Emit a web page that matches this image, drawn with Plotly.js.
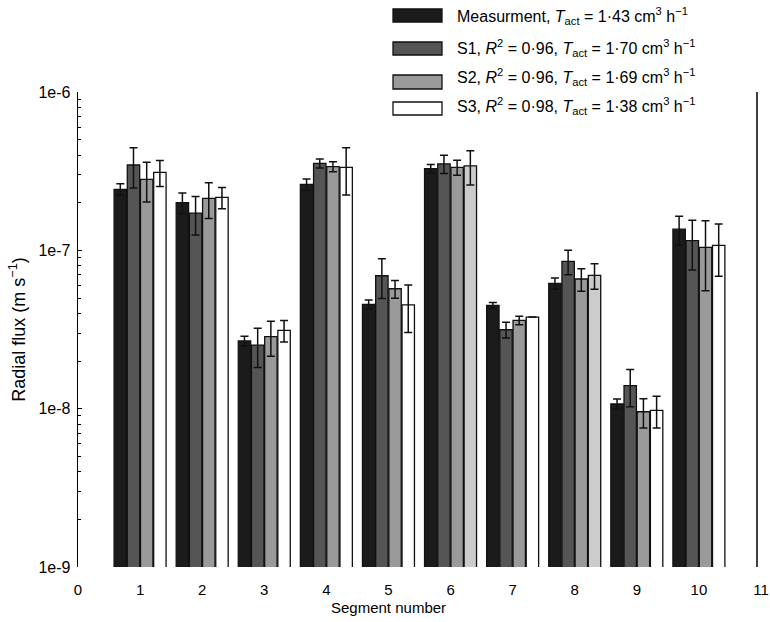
<!DOCTYPE html>
<html>
<head>
<meta charset="utf-8">
<script src="https://cdn.plot.ly/plotly-3.0.1.min.js"></script>
<style>
  html, body { margin: 0; padding: 0; background: #fff; }
  #chart { width: 770px; height: 622px; }
</style>
</head>
<body>
<div id="chart"></div>
<script>
// ---- Data ----
const segments = [1, 2, 3, 4, 5, 6, 7, 8, 9, 10];

const seriesNames = [
  'Measurment, <i>T</i><sub>act</sub> = 1·43 cm<sup>3</sup> h<sup>−1</sup>',
  'S1, <i>R</i><sup>2</sup> = 0·96, <i>T</i><sub>act</sub> = 1·70 cm<sup>3</sup> h<sup>−1</sup>',
  'S2, <i>R</i><sup>2</sup> = 0·96, <i>T</i><sub>act</sub> = 1·69 cm<sup>3</sup> h<sup>−1</sup>',
  'S3, <i>R</i><sup>2</sup> = 0·98, <i>T</i><sub>act</sub> = 1·38 cm<sup>3</sup> h<sup>−1</sup>'
];

const measurement    = [2.43e-7, 2.00e-7, 2.68e-8, 2.61e-7, 4.56e-8, 3.28e-7, 4.49e-8, 6.18e-8, 1.07e-8, 1.36e-7];
const measurementErr = [0.20e-7, 0.30e-7, 0.19e-8, 0.21e-7, 0.30e-8, 0.20e-7, 0.20e-8, 0.50e-8, 0.08e-8, 0.28e-7];

const s1    = [3.46e-7, 1.72e-7, 2.52e-8, 3.54e-7, 6.91e-8, 3.52e-7, 3.15e-8, 8.52e-8, 1.40e-8, 1.15e-7];
const s1Err = [0.98e-7, 0.47e-7, 0.70e-8, 0.23e-7, 1.95e-8, 0.46e-7, 0.36e-8, 1.50e-8, 0.37e-8, 0.40e-7];

const s2    = [2.81e-7, 2.13e-7, 2.85e-8, 3.38e-7, 5.72e-8, 3.34e-7, 3.61e-8, 6.59e-8, 9.56e-9, 1.045e-7];
const s2Err = [0.79e-7, 0.54e-7, 0.71e-8, 0.24e-7, 0.74e-8, 0.36e-7, 0.22e-8, 1.07e-8, 0.20e-8, 0.49e-7];

const s3    = [3.11e-7, 2.16e-7, 3.12e-8, 3.34e-7, 4.53e-8, 3.42e-7, 3.79e-8, 6.95e-8, 9.76e-9, 1.075e-7];
const s3Err = [0.58e-7, 0.33e-7, 0.48e-8, 1.10e-7, 1.50e-8, 0.83e-7, 0, 1.28e-8, 0.22e-8, 0.39e-7];

const seriesColors = ['#1b1b1b', '#555555', '#9a9a9a', '#ffffff'];
const s3Colors = ['#ffffff', '#ffffff', '#ffffff', '#ffffff', '#ffffff', '#cccccc', '#ffffff', '#cccccc', '#ffffff', '#ffffff'];

const xTickVals = [0, 1, 2, 3, 4, 5, 6, 7, 8, 9, 10, 11];
const yTickVals = [1e-9, 1e-8, 1e-7, 1e-6];
const yTickText = ['1e-9', '1e-8', '1e-7', '1e-6'];
const xTitle = 'Segment number';
const yTitle = 'Radial flux (m s<sup>−1</sup>)';

// ---- Layout geometry ----
const W = 770, H = 622;
const M = { l: 78, r: 9, t: 92, b: 55 };
const plotH = H - M.t - M.b;
const plotW = W - M.l - M.r;
const pxX = x => (x - M.l) / plotW;
const pxY = y => (H - M.b - y) / plotH;

const FONT = 'Liberation Sans, Arial, Helvetica, sans-serif';

const values = [measurement, s1, s2, s3];
const errors = [measurementErr, s1Err, s2Err, s3Err];
const fills = [seriesColors[0], seriesColors[1], seriesColors[2], s3Colors];

const traces = values.map((v, i) => ({
  type: 'bar',
  x: segments,
  y: v,
  name: seriesNames[i],
  marker: { color: fills[i], line: { color: '#111', width: 1.3 } },
  error_y: { type: 'data', array: errors[i], visible: true, color: '#111', thickness: 1.5, width: 4 },
  showlegend: false,
  hoverinfo: 'x+y'
}));

// minor ticks on the log axis (2..9 per decade)
const minorVals = [];
for (let d = -9; d < -6; d++) {
  for (let m = 2; m <= 9; m++) minorVals.push(m * Math.pow(10, d));
}

// hand-made legend with wide swatches
const legendRows = [
  { swTop: 9,   swBot: 22,  textY: 16 },
  { swTop: 42,  swBot: 55,  textY: 48 },
  { swTop: 75,  swBot: 89,  textY: 77 },
  { swTop: 102, swBot: 115, textY: 106 }
];
const shapes = [];
const annotations = [];
legendRows.forEach((r, i) => {
  shapes.push({
    type: 'rect', xref: 'paper', yref: 'paper',
    x0: pxX(393), x1: pxX(442), y0: pxY(r.swBot), y1: pxY(r.swTop),
    fillcolor: seriesColors[i], line: { color: '#111', width: 1.3 }
  });
  annotations.push({
    xref: 'paper', yref: 'paper', x: pxX(455), y: pxY(r.textY),
    xanchor: 'left', yanchor: 'middle', showarrow: false,
    text: seriesNames[i], font: { family: FONT, size: 16, color: '#000' }
  });
});
// x-axis title (offset to the left as in the reference)
annotations.push({
  xref: 'paper', yref: 'paper', x: pxX(388), y: pxY(607),
  xanchor: 'center', yanchor: 'middle', showarrow: false,
  text: xTitle, font: { family: FONT, size: 15, color: '#000' }
});
// right-hand vertical frame line
shapes.push({
  type: 'line', xref: 'paper', yref: 'paper',
  x0: pxX(757), x1: pxX(757), y0: 0, y1: 1,
  line: { color: '#000', width: 1.5 }
});

const layout = {
  width: W, height: H,
  margin: M,
  paper_bgcolor: '#fff', plot_bgcolor: '#fff',
  font: { family: FONT, size: 15, color: '#000' },
  barmode: 'group',
  bargap: 0.15,
  bargroupgap: 0.06,
  xaxis: {
    range: [0, 11],
    tickmode: 'array', tickvals: xTickVals,
    ticks: '', showline: false, showgrid: false, zeroline: false,
    tickfont: { family: FONT, size: 15 },
    ticklabelstandoff: 12,
    ticklabeloverflow: 'allow',
    automargin: false
  },
  yaxis: {
    type: 'log',
    range: [-9, -6],
    tickmode: 'array', tickvals: yTickVals, ticktext: yTickText,
    ticks: 'inside', ticklen: 4, tickwidth: 1.2, tickcolor: '#000',
    minor: { tickvals: minorVals, ticks: 'inside', ticklen: 3, tickwidth: 1, tickcolor: '#000', showgrid: false },
    showline: true, linecolor: '#000', linewidth: 1.3,
    showgrid: false, zeroline: false,
    tickfont: { family: FONT, size: 16 },
    ticklabelstandoff: 3,
    ticklabeloverflow: 'allow',
    title: { text: yTitle, font: { family: FONT, size: 18 }, standoff: 8 },
    automargin: false
  },
  shapes: shapes,
  annotations: annotations
};

Plotly.newPlot('chart', traces, layout, { displayModeBar: false, staticPlot: true });
</script>
</body>
</html>
